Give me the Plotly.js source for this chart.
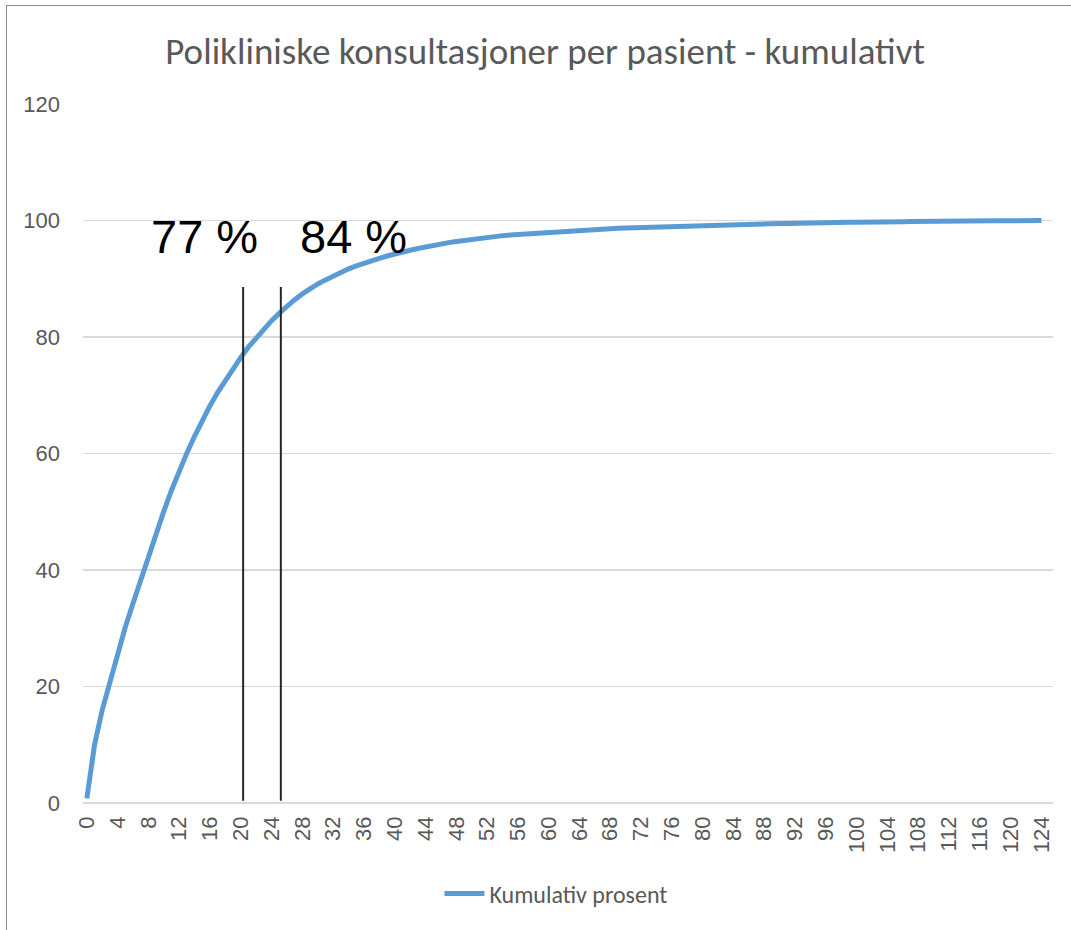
<!DOCTYPE html>
<html>
<head>
<meta charset="utf-8">
<script src="https://cdn.plot.ly/plotly-3.0.1.min.js"></script>
<style>
  html, body { margin: 0; padding: 0; background: #ffffff; overflow: hidden; }
  #wrap { position: relative; width: 1071px; height: 930px; }
  #frame { position: absolute; left: 6px; top: 5px; width: 1200px; height: 1100px; border: 1.5px solid #8c8c8c; box-sizing: border-box; pointer-events: none; z-index: 5; }
  #chart { position: absolute; left: 0; top: 0; width: 1071px; height: 930px; }
</style>
</head>
<body>
<div id="wrap">
  <div id="chart"></div>
  <div id="frame"></div>
</div>
<script>
// Konsultasjoner per pasient (kategorier)
const categories = [0,1,2,3,4,5,6,7,8,9,10,11,12,13,14,15,16,17,18,19,20,21,22,23,24,25,26,27,28,29,30,31,32,33,34,35,36,37,38,39,40,41,42,43,44,45,46,47,48,49,50,51,52,53,54,55,56,57,58,59,60,61,62,63,64,65,66,67,68,69,70,71,72,73,74,75,76,77,78,79,80,81,82,83,84,85,86,87,88,89,90,91,92,93,94,95,96,97,98,99,100,101,102,103,104,105,106,107,108,109,110,111,112,113,114,115,116,117,118,119,120,121,122,123,124];

// Kumulativ prosent
const kumulativProsent = [0.8,10.0,16.0,21.0,25.8,30.2,34.3,38.4,42.4,46.3,
  50.1,53.7,57.0,60.1,63.0,65.7,68.2,70.5,72.6,74.6,
  76.5,78.3,79.9,81.4,82.8,84.1,85.3,86.4,87.4,88.3,
  89.1,89.8,90.5,91.1,91.7,92.2,92.7,93.1,93.5,93.9,
  94.3,94.6,94.9,95.2,95.5,95.8,96.0,96.2,96.4,96.6,
  96.8,97.0,97.1,97.25,97.4,97.5,97.6,97.7,97.8,97.9,
  98.0,98.1,98.2,98.3,98.35,98.4,98.5,98.55,98.6,98.65,
  98.7,98.75,98.8,98.85,98.9,98.95,99.0,99.05,99.1,99.15,
  99.2,99.2,99.25,99.3,99.3,99.35,99.4,99.4,99.45,99.45,
  99.5,99.5,99.55,99.55,99.6,99.6,99.65,99.65,99.7,99.7,
  99.7,99.75,99.75,99.75,99.8,99.8,99.8,99.82,99.85,99.85,
  99.87,99.87,99.9,99.9,99.9,99.92,99.92,99.94,99.95,99.95,
  99.96,99.97,99.98,99.99,100];

// Tick labels
const xTickVals = [0,4,8,12,16,20,24,28,32,36,40,44,48,52,56,60,64,68,72,76,80,84,88,92,96,100,104,108,112,116,120,124];
const xTickText = ["0","4","8","12","16","20","24","28","32","36","40","44","48","52","56","60","64","68","72","76","80","84","88","92","96","100","104","108","112","116","120","124"];
const yTickVals = [0,20,40,60,80,100,120];
const yTickText = ["0","20","40","60","80","100","120"];

// Markeringer (vertikale linjer og etiketter)
const markerX = [20.3, 25.2];
const markerLabels = ["77 %", "84 %"];
const markerLabelX = [15.3, 34.7];
const markerLabelY = 97.2;
const markerTop = 88.6;
const markerBottom = 0.4;

const trace = {
  x: categories,
  y: kumulativProsent,
  type: 'scatter',
  mode: 'lines',
  name: 'Kumulativ prosent',
  line: { color: '#5B9BD5', width: 5, shape: 'linear' },
  hoverinfo: 'x+y'
};

const shapes = markerX.map(function (xv) {
  return { type: 'line', xref: 'x', yref: 'y', x0: xv, x1: xv, y0: markerBottom, y1: markerTop,
           line: { color: '#262626', width: 2 } };
});

const annotations = markerLabels.map(function (t, i) {
  return { x: markerLabelX[i], y: markerLabelY, xref: 'x', yref: 'y', text: t, showarrow: false,
           xanchor: 'center', yanchor: 'middle',
           font: { family: 'Liberation Sans, Arial, sans-serif', size: 47, color: '#000000' } };
});

const tickFont = { family: 'Liberation Sans, Arial, sans-serif', size: 22, color: '#595959' };

const layout = {
  width: 1071,
  height: 930,
  paper_bgcolor: '#ffffff',
  plot_bgcolor: '#ffffff',
  margin: { l: 83, r: 18, t: 104, b: 127, pad: 0 },
  title: {
    text: 'Polikliniske konsultasjoner per pasient - kumulativt',
    font: { family: 'Carlito, Open Sans, sans-serif', size: 37, color: '#595959' },
    x: 0.509, xanchor: 'center', y: 0.945, yanchor: 'middle'
  },
  xaxis: {
    type: 'linear',
    range: [-0.5, 125.5],
    tickmode: 'array',
    tickvals: xTickVals,
    ticktext: xTickText,
    tickangle: -90,
    tickfont: tickFont,
    showgrid: false,
    zeroline: false,
    showline: false,
    ticks: '',
    ticklabelstandoff: 8,
    fixedrange: true
  },
  yaxis: {
    range: [0, 120],
    tickmode: 'array',
    tickvals: yTickVals,
    ticktext: yTickText,
    tickfont: tickFont,
    showgrid: true,
    gridcolor: '#d9d9d9',
    gridwidth: 1.3,
    zeroline: true,
    zerolinecolor: '#d9d9d9',
    zerolinewidth: 1.3,
    showline: false,
    ticks: '',
    ticklabelstandoff: 22,
    fixedrange: true
  },
  showlegend: true,
  legend: {
    orientation: 'h',
    x: 0.4876, xanchor: 'center',
    y: -0.130, yanchor: 'middle',
    font: { family: 'Carlito, Open Sans, sans-serif', size: 24, color: '#595959' },
    itemwidth: 40,
    bgcolor: 'rgba(0,0,0,0)'
  },
  shapes: shapes,
  annotations: annotations
};

Plotly.newPlot('chart', [trace], layout, { displayModeBar: false, staticPlot: true });
</script>
</body>
</html>
